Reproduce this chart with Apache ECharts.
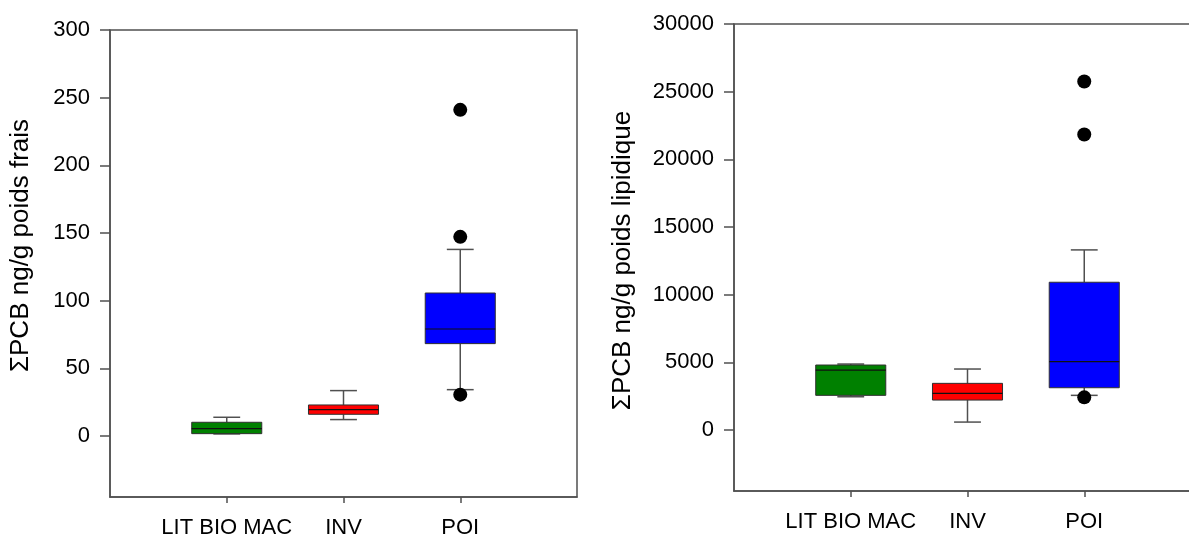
<!DOCTYPE html>
<html>
<head>
<meta charset="utf-8">
<script src="https://cdn.jsdelivr.net/npm/echarts@6/dist/echarts.min.js"></script>
<style>
  html, body { margin: 0; padding: 0; background: #ffffff; }
  #chart { width: 1189px; height: 536px; }
</style>
</head>
<body>
<div id="chart"></div>
<script>
// Groups shown on both panels (blank slots keep a margin at each end of the axis)
const categories = ['LIT BIO MAC', 'INV', 'POI'];
const axisSlots = [''].concat(categories, ['']);

// Box statistics per group: [lower whisker, Q1, median, Q3, upper whisker]
const freshLow    = [1.6, 12.2, 34.3];
const freshQ1     = [1.8, 16.1, 68.3];
const freshMedian = [5.5, 19.6, 79.1];
const freshQ3     = [10.2, 23.0, 105.7];
const freshHigh   = [13.9, 33.6, 137.9];
const freshOutliers = [['POI', 241], ['POI', 147.2], ['POI', 30.6]];

const lipidLow    = [2462, 592, 2566];
const lipidQ1     = [2566, 2218, 3128];
const lipidMedian = [4437, 2714, 5051];
const lipidQ3     = [4807, 3453, 10922];
const lipidHigh   = [4880, 4511, 13311];
const lipidOutliers = [['POI', 25756], ['POI', 21837], ['POI', 2418]];

// Tick labels on the value axes
const freshTicks = [0, 50, 100, 150, 200, 250, 300];
const lipidTicks = [0, 5000, 10000, 15000, 20000, 25000, 30000];

const boxColors = ['#008000', '#ff0000', '#0000ff'];
const FONT = "'Liberation Sans', Arial, sans-serif";
const LINE = '#505050';

function boxRows(low, q1, med, q3, high) {
  return categories.map((c, i) => [c, low[i], q1[i], med[i], q3[i], high[i]]);
}

function renderBox(params, api) {
  const x = api.value(0);
  const lo = api.coord([x, api.value(1)]);
  const q1 = api.coord([x, api.value(2)]);
  const md = api.coord([x, api.value(3)]);
  const q3 = api.coord([x, api.value(4)]);
  const hi = api.coord([x, api.value(5)]);
  const band = api.size([1, 0])[0];
  const half = band * 0.3;
  const cap = band * 0.115;
  const cx = lo[0];
  const whisker = { stroke: LINE, lineWidth: 1.5 };
  return {
    type: 'group',
    children: [
      { type: 'line', shape: { x1: cx, y1: q3[1], x2: cx, y2: hi[1] }, style: whisker },
      { type: 'line', shape: { x1: cx, y1: q1[1], x2: cx, y2: lo[1] }, style: whisker },
      { type: 'line', shape: { x1: cx - cap, y1: hi[1], x2: cx + cap, y2: hi[1] }, style: whisker },
      { type: 'line', shape: { x1: cx - cap, y1: lo[1], x2: cx + cap, y2: lo[1] }, style: whisker },
      { type: 'rect', shape: { x: cx - half, y: q3[1], width: half * 2, height: q1[1] - q3[1] },
        style: { fill: boxColors[params.dataIndex], stroke: '#303030', lineWidth: 1 } },
      { type: 'line', shape: { x1: cx - half, y1: md[1], x2: cx + half, y2: md[1] },
        style: { stroke: '#111111', lineWidth: 1.2 } }
    ]
  };
}

function valueAxis(gridIndex, min, max, ticks, name, gap, namePad) {
  return {
    type: 'value', gridIndex, min, max,
    name, nameLocation: 'middle', nameGap: gap,
    nameTextStyle: { fontFamily: FONT, fontSize: 26, color: '#000', padding: namePad },
    axisLine: { show: true, lineStyle: { color: LINE, width: 1.5 } },
    axisTick: { show: true, length: 10, customValues: ticks, lineStyle: { color: LINE, width: 1.5 } },
    axisLabel: { customValues: ticks, margin: 20, fontFamily: FONT, fontSize: 22, color: '#000',
      formatter: (v) => String(v) },
    splitLine: { show: false }
  };
}

function categoryAxis(gridIndex) {
  return {
    type: 'category', gridIndex, data: axisSlots, boundaryGap: false,
    axisLine: { onZero: false, lineStyle: { color: LINE, width: 1.5 } },
    axisTick: { length: 6, interval: (i) => i > 0 && i < axisSlots.length - 1,
      lineStyle: { color: LINE, width: 1.5 } },
    axisLabel: { interval: 0, margin: 20, fontFamily: FONT, fontSize: 22, color: '#000' },
    splitLine: { show: false }
  };
}

const chart = echarts.init(document.getElementById('chart'), null, { renderer: 'canvas' });
chart.setOption({
  animation: false,
  grid: [
    { left: 110, top: 30, width: 467, height: 467, outerBoundsMode: 'none', containLabel: false,
      show: true, borderColor: LINE, borderWidth: 1.5 },
    { left: 734, top: 24, width: 467, height: 467, outerBoundsMode: 'none', containLabel: false,
      show: true, borderColor: LINE, borderWidth: 1.5 }
  ],
  xAxis: [categoryAxis(0), categoryAxis(1)],
  yAxis: [
    valueAxis(0, -45, 300, freshTicks, 'ΣPCB ng/g poids frais', 76, [0, 0, 0, 36]),
    valueAxis(1, -4500, 30000, lipidTicks, 'ΣPCB ng/g poids lipidique', 98, [0, 6, 0, 0])
  ],
  series: [
    { type: 'custom', xAxisIndex: 0, yAxisIndex: 0, renderItem: renderBox,
      encode: { x: 0, y: [1, 2, 3, 4, 5] },
      data: boxRows(freshLow, freshQ1, freshMedian, freshQ3, freshHigh), z: 2 },
    { type: 'scatter', xAxisIndex: 0, yAxisIndex: 0, data: freshOutliers,
      symbolSize: 14, itemStyle: { color: '#000', opacity: 1 }, z: 3 },
    { type: 'custom', xAxisIndex: 1, yAxisIndex: 1, renderItem: renderBox,
      encode: { x: 0, y: [1, 2, 3, 4, 5] },
      data: boxRows(lipidLow, lipidQ1, lipidMedian, lipidQ3, lipidHigh), z: 2 },
    { type: 'scatter', xAxisIndex: 1, yAxisIndex: 1, data: lipidOutliers,
      symbolSize: 14, itemStyle: { color: '#000', opacity: 1 }, z: 3 }
  ]
});
</script>
</body>
</html>
